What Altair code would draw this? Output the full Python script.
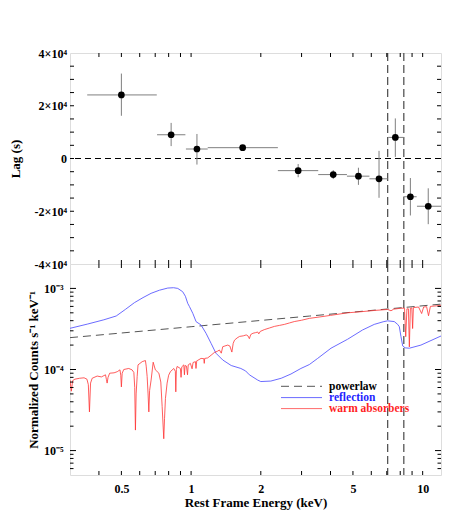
import altair as alt
import pandas as pd

# ---------------- data ----------------
# top panel: lag-energy spectrum
lag_energy = [0.50, 0.82, 1.06, 1.67, 2.90, 4.11, 5.28, 6.48, 7.62, 8.85, 10.57]
lag_energy_lo = [0.356, 0.713, 0.95, 1.18, 2.37, 3.54, 4.71, 5.89, 7.10, 8.25, 9.45]
lag_energy_hi = [0.711, 0.945, 1.18, 2.37, 3.54, 4.71, 5.89, 7.06, 8.28, 9.42, 12.0]
lag_value = [24100, 9000, 3600, 4100, -4600, -6100, -6700, -7700, 8000, -14500, -18100]
lag_lo = [16200, 4700, -2300, 3600, -7100, -7800, -10000, -14900, 600, -21600, -24900]
lag_hi = [32200, 13500, 9300, 4600, -2100, -4400, -3500, 2900, 15200, -7400, -11300]

# vertical marker lines (keV)
marker_energy = [7.06, 8.29]

# bottom panel: model components
powerlaw_e = [0.30, 1.0, 3.24, 12.0]
powerlaw_v = [2.47e-4, 3.37e-4, 4.56e-4, 6.4e-4]

reflection_e = [0.300, 0.358, 0.420, 0.475, 0.52, 0.569, 0.62, 0.672, 0.73, 0.793, 0.84,
                0.876, 0.92, 0.945, 0.967, 0.983, 1.017, 1.051, 1.104, 1.16, 1.22, 1.28,
                1.37, 1.49, 1.64, 1.72, 1.785, 1.94, 2.0, 2.21, 2.45, 2.70, 2.98, 3.24,
                3.52, 4.02, 4.74, 5.5, 6.18, 6.8, 7.06, 7.54, 7.80, 7.93, 8.06, 8.20,
                8.40, 8.76, 9.83, 12.0]
reflection_v = [3.22e-4, 3.64e-4, 4.1e-4, 4.57e-4, 5.5e-4, 6.67e-4, 7.7e-4, 8.7e-4, 9.5e-4,
                1.01e-3, 1.02e-3, 1.0e-3, 9.1e-4, 8.0e-4, 6.55e-4, 6.0e-4, 4.93e-4, 3.89e-4,
                3.54e-4, 2.8e-4, 2.1e-4, 1.59e-4, 1.31e-4, 1.12e-4, 1.03e-4, 9.6e-5, 8.6e-5,
                7.4e-5, 7.1e-5, 7.2e-5, 7.8e-5, 8.8e-5, 1.03e-4, 1.15e-4, 1.37e-4, 1.83e-4,
                2.36e-4, 3.07e-4, 3.6e-4, 3.9e-4, 3.98e-4, 3.9e-4, 3.6e-4, 3.37e-4, 2.54e-4,
                1.95e-4, 1.85e-4, 1.83e-4, 2.0e-4, 2.59e-4]

warm_e = [0.300, 0.304, 0.308, 0.315, 0.330, 0.345, 0.355, 0.360, 0.364, 0.368, 0.374,
          0.393, 0.41, 0.427, 0.431, 0.434, 0.438, 0.445, 0.465, 0.480, 0.493, 0.497,
          0.500, 0.504, 0.512, 0.538, 0.556, 0.566, 0.571, 0.575, 0.579, 0.585, 0.590,
          0.615, 0.635, 0.640, 0.646, 0.652, 0.657, 0.662, 0.672, 0.686, 0.701, 0.712,
          0.726, 0.740, 0.750, 0.762, 0.768, 0.775, 0.788, 0.800, 0.814, 0.842, 0.855,
          0.859, 0.864, 0.870, 0.899, 0.905, 0.912, 0.93, 0.936, 0.942, 0.955, 0.965,
          0.972, 0.993, 1.01, 1.02, 1.044, 1.05, 1.058, 1.07, 1.104, 1.135, 1.14, 1.145,
          1.18, 1.22, 1.26, 1.30, 1.325, 1.35, 1.37,
          1.40, 1.44, 1.47, 1.50, 1.52, 1.54, 1.58, 1.62, 1.68, 1.73, 1.76, 1.785, 1.81,
          1.85, 1.90, 1.94, 1.96, 1.99, 2.07, 2.18, 2.29, 2.41, 2.53, 2.66, 2.79, 3.0,
          3.24, 3.6, 4.0, 4.74, 5.42, 6.2, 7.06, 7.3, 7.5, 8.06, 8.35, 8.45, 8.55, 8.68,
          8.76, 8.85, 8.98, 9.05, 9.12, 9.6, 9.9, 10.1, 10.4, 10.6, 10.8, 11.5, 12.0]
warm_v = [7.4e-5, 5.4e-5, 7.3e-5, 7.6e-5, 7.8e-5, 7.9e-5, 7.6e-5, 6.5e-5, 3.0e-5, 6.8e-5, 7.8e-5,
          8.3e-5, 8.1e-5, 8.6e-5, 7.5e-5, 6.8e-5, 8.0e-5, 9.0e-5, 9.1e-5, 9.4e-5, 9.9e-5, 8.5e-5,
          6.1e-5, 9.0e-5, 1.0e-4, 1.03e-4, 9.9e-5, 9.2e-5, 6.0e-5, 1.79e-5, 5.0e-5, 8.2e-5, 1.14e-4,
          1.25e-4, 1.29e-4, 1.1e-4, 8.2e-5, 5.0e-5, 3.0e-5, 5.5e-5, 7.4e-5, 1.23e-4, 9.9e-5, 9.5e-5,
          9.0e-5, 7.0e-5, 3.5e-5, 1.4e-5, 2.5e-5, 4.4e-5, 6.8e-5, 8.5e-5, 9.4e-5, 1.03e-4, 9.5e-5,
          5.3e-5, 1.0e-4, 1.09e-4, 1.03e-4, 8.0e-5, 1.08e-4, 1.14e-4, 8.6e-5, 1.12e-4, 1.10e-4, 8.6e-5,
          1.14e-4, 1.19e-4, 1.02e-4, 1.22e-4, 1.25e-4, 1.03e-4, 1.28e-4, 1.3e-4, 1.37e-4, 1.36e-4, 1.19e-4, 1.37e-4,
          1.39e-4, 1.5e-4, 1.62e-4, 1.68e-4, 1.74e-4, 1.59e-4, 1.91e-4,
          1.95e-4, 2.0e-4, 1.95e-4, 1.64e-4, 2.1e-4, 2.3e-4, 2.45e-4, 2.56e-4, 2.6e-4, 2.67e-4, 2.6e-4, 2.4e-4, 2.7e-4,
          2.8e-4, 2.85e-4, 2.9e-4, 2.75e-4, 2.95e-4, 3.1e-4, 3.25e-4, 3.4e-4, 3.5e-4, 3.6e-4, 3.75e-4, 3.9e-4, 4.05e-4,
          4.27e-4, 4.45e-4, 4.65e-4, 5.0e-4, 5.16e-4, 5.35e-4, 5.5e-4, 5.3e-4, 5.55e-4, 5.7e-4, 5.7e-4, 2.54e-4, 5.6e-4, 5.6e-4,
          1.9e-4, 5.7e-4, 5.75e-4, 3.2e-4, 5.8e-4, 5.9e-4, 4.9e-4, 5.9e-4, 5.95e-4, 4.6e-4, 6.0e-4, 6.1e-4, 6.2e-4]

# tick values / axis labels
energy_tick_labels = [0.5, 1, 2, 5, 10]
energy_ticks = [0.4, 0.5, 0.6, 0.7, 0.8, 0.9, 1, 2, 3, 4, 5, 6, 7, 8, 9, 10]
lag_tick_labels = [-40000, -20000, 0, 20000, 40000]
lag_ticks = [-35000, -30000, -25000, -20000, -15000, -10000, -5000, 0,
             5000, 10000, 15000, 20000, 25000, 30000, 35000]
count_tick_labels = [1e-5, 1e-4, 1e-3]
count_minor_ticks = [6e-6, 7e-6, 8e-6, 9e-6,
                     2e-5, 3e-5, 4e-5, 5e-5, 6e-5, 7e-5, 8e-5, 9e-5,
                     2e-4, 3e-4, 4e-4, 5e-4, 6e-4, 7e-4, 8e-4, 9e-4]

# ---------------- chart ----------------
W, H = 371, 211
FONT = "Liberation Serif"

lag_df = pd.DataFrame({"e": lag_energy, "elo": lag_energy_lo, "ehi": lag_energy_hi,
                       "lag": lag_value, "lo": lag_lo, "hi": lag_hi})
marker_df = pd.DataFrame({"e": marker_energy})
zero_df = pd.DataFrame({"lag": [0]})
pl_df = pd.DataFrame({"e": powerlaw_e, "v": powerlaw_v})
refl_df = pd.DataFrame({"e": reflection_e, "v": reflection_v})
warm_df = pd.DataFrame({"e": warm_e, "v": warm_v})
one_df = pd.DataFrame({"a": [0]})

x_scale = alt.Scale(type="log", domain=[0.3, 12], nice=False)
lag_scale = alt.Scale(domain=[-40000, 40000], nice=False, zero=False)
cnt_scale = alt.Scale(type="log", domain=[5e-6, 2e-3], nice=False)

font_kw = dict(labelFont=FONT, titleFont=FONT, labelFontWeight="bold", titleFontWeight="bold",
               labelColor="black", titleColor="black")

x_axis_top = alt.Axis(title=None, labels=False, ticks=False, domain=False, grid=False)
lag_axis = alt.Axis(title="Lag (s)", values=lag_tick_labels,
                    labelExpr="datum.value == 0 ? '0' : (datum.value < 0 ? '-' : '') + abs(datum.value) / 10000 + '×10⁴'",
                    ticks=False, tickSize=0, domain=False, grid=False, labelPadding=3.5,
                    labelFontSize=12, titleFontSize=13, titleX=-51, titleBaseline="alphabetic",
                    **font_kw)
x_axis_bot = alt.Axis(title="Rest Frame Energy (keV)", values=energy_tick_labels,
                      labelExpr="'' + datum.value", ticks=False, tickSize=0, domain=False,
                      grid=False, labelPadding=17, labelBaseline="alphabetic",
                      labelFontSize=12, titleFontSize=13, titleY=31, titleBaseline="alphabetic",
                      **font_kw)
cnt_axis = alt.Axis(title="Normalized Counts s⁻¹ keV⁻¹", values=count_tick_labels,
                    labelExpr="datum.value > 0.0005 ? '10⁻³' : (datum.value > 0.00005 ? '10⁻⁴' : '10⁻⁵')",
                    ticks=False, tickSize=0, domain=False, grid=False, labelPadding=7,
                    labelFontSize=12, titleFontSize=13, titleX=-33, titleBaseline="alphabetic",
                    **font_kw)


def x_enc(field, axis):
    return alt.X(field, type="quantitative", scale=x_scale, axis=axis)


def x_tick_layers(axis, h):
    df = pd.DataFrame({"t": energy_ticks})
    bottom = alt.Chart(df).mark_rule(color="black", strokeWidth=1).encode(
        x=x_enc("t", axis), y=alt.value(h - 4), y2=alt.value(h))
    top = alt.Chart(df).mark_rule(color="black", strokeWidth=1).encode(
        x=x_enc("t", axis), y=alt.value(0), y2=alt.value(4))
    return [bottom, top]


def y_tick_layers(values, scale, axis, length):
    df = pd.DataFrame({"t": values})
    left = alt.Chart(df).mark_rule(color="black", strokeWidth=1).encode(
        y=alt.Y("t:Q", scale=scale, axis=axis), x=alt.value(0), x2=alt.value(length))
    right = alt.Chart(df).mark_rule(color="black", strokeWidth=1).encode(
        y=alt.Y("t:Q", scale=scale, axis=axis), x=alt.value(W - length), x2=alt.value(W))
    return [left, right]


# ---- top panel ----
lag_y = lambda f: alt.Y(f, type="quantitative", scale=lag_scale, axis=lag_axis)

zero_line = alt.Chart(zero_df).mark_rule(color="black", strokeWidth=1, strokeDash=[6, 4]).encode(
    y=lag_y("lag"))
markers_top = alt.Chart(marker_df).mark_rule(color="#555555", strokeWidth=1.3, strokeDash=[8, 4]).encode(
    x=x_enc("e", x_axis_top))
err_x = alt.Chart(lag_df).mark_rule(color="#7f7f7f", strokeWidth=1).encode(
    x=x_enc("elo", x_axis_top), x2="ehi", y=lag_y("lag"))
err_y = alt.Chart(lag_df).mark_rule(color="#7f7f7f", strokeWidth=1).encode(
    x=x_enc("e", x_axis_top), y=lag_y("lo"), y2="hi")
pts = alt.Chart(lag_df).mark_circle(color="black", opacity=1, size=45).encode(
    x=x_enc("e", x_axis_top), y=lag_y("lag"))

top = alt.layer(
    zero_line, markers_top, err_x, err_y, pts,
    *x_tick_layers(x_axis_top, H),
    *y_tick_layers(lag_ticks, lag_scale, lag_axis, 4),
).properties(width=W, height=H)

# ---- bottom panel ----
cnt_y = lambda f: alt.Y(f, type="quantitative", scale=cnt_scale, axis=cnt_axis)

markers_bot = alt.Chart(marker_df).mark_rule(color="#555555", strokeWidth=1.3, strokeDash=[8, 4]).encode(
    x=x_enc("e", x_axis_bot))
pl_line = alt.Chart(pl_df).mark_line(color="#555555", strokeWidth=1, strokeDash=[8, 5], clip=True).encode(
    x=x_enc("e", x_axis_bot), y=cnt_y("v"))
refl_line = alt.Chart(refl_df).mark_line(color="#5a5aff", strokeWidth=0.9, clip=True).encode(
    x=x_enc("e", x_axis_bot), y=cnt_y("v"))
warm_line = alt.Chart(warm_df).mark_line(color="#ff3333", strokeWidth=0.8, clip=True).encode(
    x=x_enc("e", x_axis_bot), y=cnt_y("v"))

legend_rows = [("powerlaw", "black", "#555555", [8, 5], 122.3),
               ("reflection", "#1f1fff", "#6a6aff", [1, 0], 133.6),
               ("warm absorbers", "#ff1f1f", "#ff6a6a", [1, 0], 144.6)]
legend_layers = []
for label, tcolor, lcolor, dash, ly in legend_rows:
    legend_layers.append(
        alt.Chart(one_df).mark_rule(color=lcolor, strokeWidth=1, strokeDash=dash).encode(
            x=alt.value(211), x2=alt.value(252), y=alt.value(ly)))
    legend_layers.append(
        alt.Chart(one_df).mark_text(text=label, color=tcolor, font=FONT, fontWeight="bold",
                                    fontSize=11.5, align="left", baseline="middle").encode(
            x=alt.value(259), y=alt.value(ly + 0.5)))

bottom = alt.layer(
    markers_bot, pl_line, refl_line, warm_line,
    *legend_layers,
    *x_tick_layers(x_axis_bot, H),
    *y_tick_layers(count_tick_labels, cnt_scale, cnt_axis, 6),
    *y_tick_layers(count_minor_ticks, cnt_scale, cnt_axis, 3.5),
).properties(width=W, height=H)

chart = alt.vconcat(top, bottom, spacing=0, bounds="flush").properties(
    padding={"left": 0, "top": 38, "right": 5, "bottom": 5}
).configure_view(
    stroke="black", strokeWidth=1
).configure_axis(
    labelFont=FONT, titleFont=FONT, labelFontWeight="bold", titleFontWeight="bold",
    labelColor="black", titleColor="black"
).configure(background="white")

chart.save("out.html", embed_options={"renderer": "svg", "actions": False})
